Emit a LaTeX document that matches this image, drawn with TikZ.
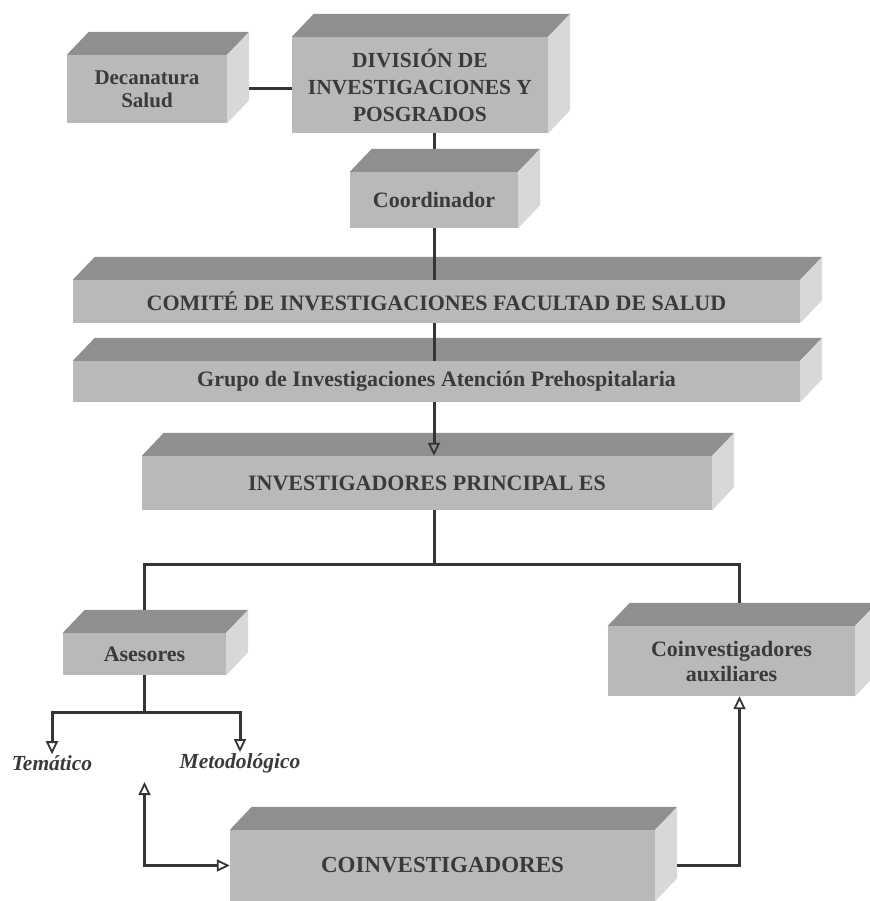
\documentclass[tikz,border=0pt]{standalone}
\usepackage{fontspec}
\setmainfont{Liberation Serif}
\usetikzlibrary{arrows.meta}

\definecolor{frontgray}{HTML}{B9B9B9}
\definecolor{topgray}{HTML}{8F8F8F}
\definecolor{sidegray}{HTML}{D8D8D8}
\definecolor{textgray}{HTML}{3A3A3A}
\definecolor{linegray}{HTML}{353535}

% top and right faces of a block
\newcommand{\extrude}[1]{%
  \fill[topgray] (#1.north west) -- ++(22,-23) -- ([shift={(22,-23)}]#1.north east) -- (#1.north east) -- cycle;
  \fill[sidegray] (#1.north east) -- ++(22,-23) -- ([shift={(22,-23)}]#1.south east) -- (#1.south east) -- cycle;}

\begin{document}
\begin{tikzpicture}[x=1pt,y=-1pt,
  box/.style={fill=frontgray,text=textgray,align=center,inner sep=0pt,
    font=\bfseries\fontsize{22}{26}\selectfont},
  link/.style={draw=linegray,line width=3pt},
  arrowed/.style={-{Triangle[open,length=13pt,width=12pt,line width=1.8pt]}},
  branch/.style={text=textgray,inner sep=1pt,font=\bfseries\itshape\fontsize{21.5}{24}\selectfont}]
  \useasboundingbox (0,0) rectangle (869,901);

  \node[box,minimum width=160pt,minimum height=68pt,font=\bfseries\fontsize{21}{23}\selectfont] (deca) at (147,89) {Decanatura\\Salud};
  \node[box,minimum width=256pt,minimum height=96pt,font=\bfseries\fontsize{21.5}{27}\selectfont] (div) at (420,85) {DIVISIÓN DE\\INVESTIGACIONES Y\\POSGRADOS};
  \node[box,minimum width=168pt,minimum height=56pt] (coord) at (434,200) {Coordinador};
  \node[box,minimum width=727pt,minimum height=43pt] (comite) at (436.5,301.5) {COMITÉ DE INVESTIGACIONES FACULTAD DE SALUD};
  \node[box,minimum width=727pt,minimum height=41pt] (grupo) at (436.5,381.5) {Grupo de Investigaciones Atención Prehospitalaria};
  \node[box,minimum width=570pt,minimum height=54pt] (inv) at (427,483) {INVESTIGADORES PRINCIPAL ES};
  \node[box,minimum width=163pt,minimum height=42pt] (ases) at (144.5,654) {Asesores};
  \node[box,minimum width=247pt,minimum height=70pt,font=\bfseries\fontsize{22}{25}\selectfont] (aux) at (731.5,661) {Coinvestigadores\\auxiliares};
  \node[box,minimum width=425pt,minimum height=71pt,font=\bfseries\fontsize{23}{26}\selectfont] (coinv) at (442.5,865.5) {COINVESTIGADORES};

  \node[branch] (tem) at (52,763) {Temático};
  \node[branch] (met) at (240,763) {Metodológico};

  \extrude{deca}
  \extrude{div}
  \extrude{coord}
  \extrude{comite}
  \extrude{grupo}
  \extrude{inv}
  \extrude{ases}
  \extrude{aux}
  \extrude{coinv}

  \draw[link] ([xshift=22pt]deca.east) -- (deca.east -| div.west);
  \draw[link] (div.south -| coord.north) -- ([yshift=23pt]coord.north);
  \draw[link] (coord.south) -- (comite.north -| coord.south);
  \draw[link] (comite.south -| coord.south) -- (grupo.north -| coord.south);
  \draw[link,arrowed] (grupo.south -| coord.south) -- (inv.north -| coord.south);

  \draw[link] (inv.south -| coord.south) -- ++(0,54) coordinate (split);
  \draw[link] ([yshift=23pt]ases.north) |- (split) -| ([shift={(8pt,23pt)}]aux.north);

  \draw[link,arrowed] (ases.south) -- ++(0,37) -| (tem.north);
  \draw[link,arrowed] (ases.south) -- ++(0,37) -| (met.north);

  \coordinate (toases) at (144.5,782);
  \draw[link,{Triangle[open,length=13pt,width=12pt,line width=1.8pt]}-{Triangle[open,length=13pt,width=12pt,line width=1.8pt]}] (toases) |- (coinv.west);
  \draw[link,arrowed] ([xshift=22pt]coinv.east) -| ([xshift=8pt]aux.south);
\end{tikzpicture}
\end{document}
